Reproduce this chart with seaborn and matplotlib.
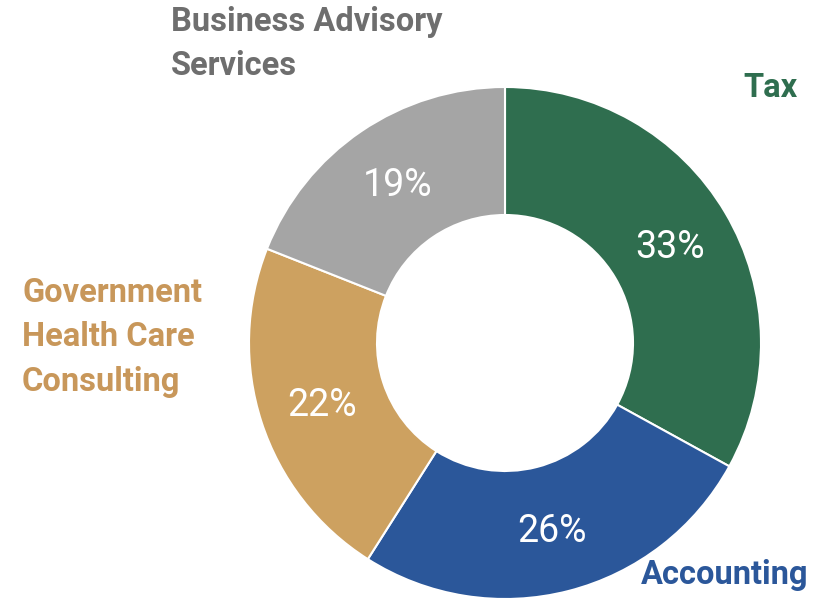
"""Donut chart of revenue share by service line."""

import matplotlib.pyplot as plt
import seaborn as sns

segments = ["Tax", "Accounting", "Government\nHealth Care\nConsulting", "Business Advisory\nServices"]
shares = [33, 26, 22, 19]
slice_colors = ["#2F6E4F", "#2B579A", "#CDA160", "#A5A5A5"]
label_colors = ["#2F6E4F", "#2B579A", "#C8975A", "#6E6E6E"]

sns.set_theme(style="white")
plt.rcParams["font.family"] = ["Roboto", "DejaVu Sans"]

W, H = 827, 599
fig = plt.figure(figsize=(W / 100, H / 100), dpi=100)
cx, cy, r = 505, 343, 256
ax = fig.add_axes([(cx - r) / W, (H - cy - r) / H, 2 * r / W, 2 * r / H])

wedges, texts = ax.pie(
    shares,
    colors=slice_colors,
    startangle=90,
    counterclock=False,
    radius=1,
    wedgeprops=dict(width=0.5, edgecolor="white", linewidth=1.5),
)
ax.set_xlim(-1, 1)
ax.set_ylim(-1, 1)
ax.set_aspect("equal")
ax.axis("off")

# percentage labels on the ring
pct_pos = [(670, 247), (552, 532), (322, 405), (398, 186)]
for (px, py), s in zip(pct_pos, shares):
    fig.text(px / W, 1 - py / H, f"{s}%", color="white", fontsize=27,
             ha="center", va="center")

# category labels around the ring
lab = dict(fontsize=23.5, fontweight="bold", va="center", linespacing=1.5)
fig.text(770 / W, 1 - 88 / H, segments[0], color=label_colors[0], ha="center", **lab)
fig.text(808 / W, 1 - 575 / H, segments[1], color=label_colors[1], ha="right", **lab)
fig.text(22 / W, 1 - 337 / H, segments[2], color=label_colors[2], ha="left", **lab)
fig.text(171 / W, 1 - 44 / H, segments[3], color=label_colors[3], ha="left", **lab)

fig.savefig("out.png", dpi=100)
